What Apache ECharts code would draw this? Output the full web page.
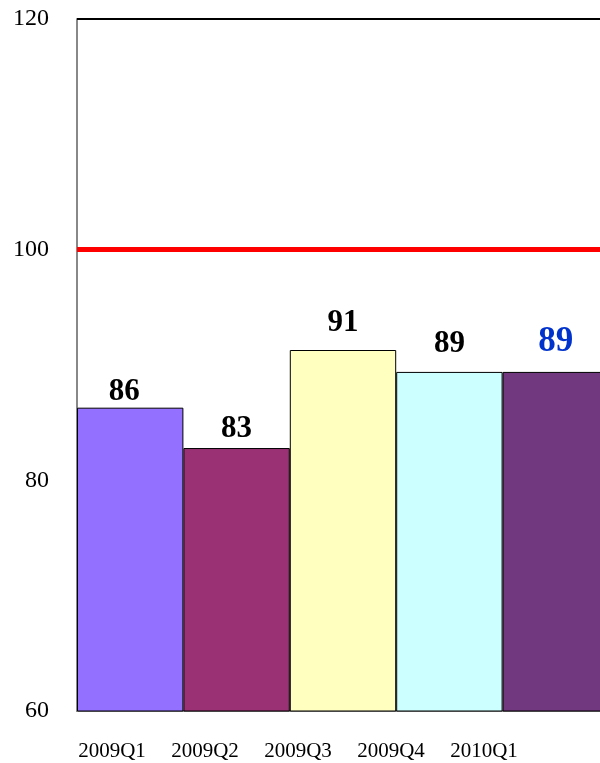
<!DOCTYPE html>
<html>
<head>
<meta charset="utf-8">
<script src="https://cdn.jsdelivr.net/npm/echarts@6/dist/echarts.min.js"></script>
<style>
  html, body { margin: 0; padding: 0; background: #fff; }
  #chart { width: 600px; height: 763px; }
</style>
</head>
<body>
<div id="chart"></div>
<script>
const quarters = ['2009Q1', '2009Q2', '2009Q3', '2009Q4', '2010Q1'];
const scores = [86.3, 82.8, 91.3, 89.4, 89.4];
const barColors = ['#9370ff', '#993174', '#ffffc0', '#ccffff', '#72387f'];
const yTicks = [60, 80, 100, 120];
const targetLine = 100;

// 标签与柱顶的距离（原图不统一）
const labelGap = [0, 4, 12, 12, 12];
const labelShift = [-6, 0, 0, 0, 0];

const myChart = echarts.init(document.getElementById('chart'));

const barData = scores.map(function (v, i) {
  const item = {
    value: v,
    itemStyle: { color: barColors[i] },
    label: { distance: labelGap[i], offset: [labelShift[i], 0] }
  };
  // 最后一个季度的标签用蓝色突出
  if (i === scores.length - 1) {
    item.label.color = '#0033cc';
    item.label.fontSize = 35;
  }
  return item;
});

const option = {
  animation: false,
  grid: [
    // 最后一根柱子超出画布右边
    { left: 77, width: 532, top: 19, bottom: 52, outerBoundsMode: 'none' },
    // 横轴文字单独一层，间距与柱子不同
    { left: 65.5, width: 465, top: 19, bottom: 52, outerBoundsMode: 'none' }
  ],
  xAxis: [
    {
      type: 'category',
      gridIndex: 0,
      data: quarters,
      axisLine: { lineStyle: { color: '#888888', width: 2 } },
      axisTick: { show: false },
      axisLabel: { show: false }
    },
    {
      type: 'category',
      gridIndex: 1,
      data: quarters,
      axisLine: { show: false },
      axisTick: { show: false },
      axisLabel: {
        fontFamily: 'Liberation Serif',
        fontSize: 21,
        color: '#000',
        margin: 30
      }
    }
  ],
  yAxis: [
    {
      type: 'value',
      gridIndex: 0,
      min: yTicks[0],
      max: yTicks[yTicks.length - 1],
      interval: 20,
      axisLine: { show: true, lineStyle: { color: '#888888', width: 2 } },
      axisTick: { show: false },
      splitLine: { show: false },
      axisLabel: {
        fontFamily: 'Liberation Serif',
        fontSize: 24,
        color: '#000',
        margin: 28
      }
    },
    {
      type: 'value',
      gridIndex: 1,
      show: false
    }
  ],
  series: [
    {
      type: 'bar',
      xAxisIndex: 0,
      yAxisIndex: 0,
      data: barData,
      barCategoryGap: 0,
      itemStyle: { borderColor: '#000', borderWidth: 1 },
      label: {
        show: true,
        position: 'top',
        fontFamily: 'Liberation Serif',
        fontWeight: 'bold',
        fontSize: 31,
        color: '#000',
        formatter: function (p) { return Math.round(p.value); }
      },
      markLine: {
        silent: true,
        symbol: 'none',
        label: { show: false },
        data: [
          { yAxis: targetLine, lineStyle: { color: '#ff0000', width: 5, type: 'solid' } },
          { yAxis: yTicks[yTicks.length - 1], lineStyle: { color: '#000', width: 2, type: 'solid' } }
        ]
      }
    }
  ]
};

myChart.setOption(option);
</script>
</body>
</html>
